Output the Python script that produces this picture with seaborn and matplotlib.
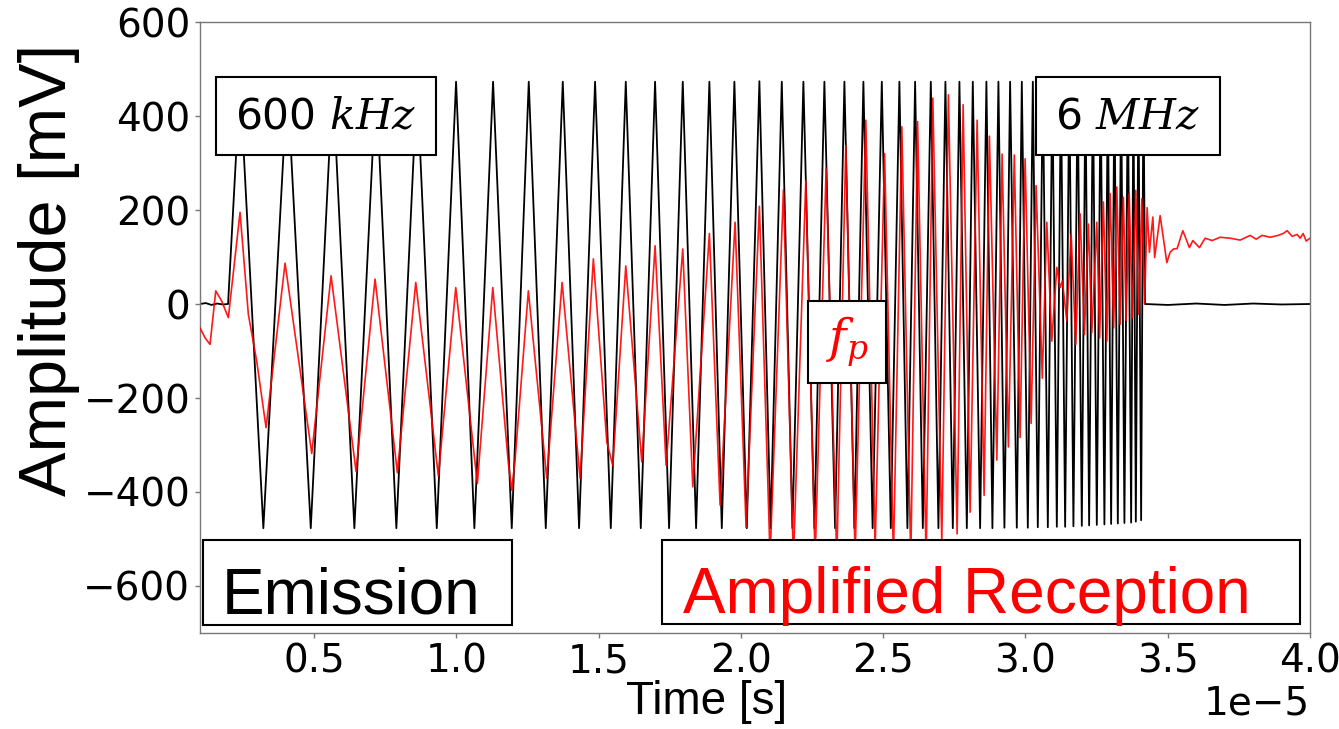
import numpy as np
import pandas as pd
import matplotlib
matplotlib.use("Agg")
import matplotlib.pyplot as plt
from matplotlib.patches import Rectangle
import seaborn as sns

# ---------------- data (time in microseconds, amplitude in mV) ----------------
# Emission (black): baseline before the chirp, extrema of the chirp, baseline after
black_pre_t = [1.00, 1.20, 1.40, 1.60, 1.80, 1.984]
black_pre_mv = [0, 2, -2, 1, -1, 0]

black_peak_t = [2.405, 4.067, 5.663, 7.184, 8.625, 9.995, 11.295, 12.549, 13.744, 14.879,
                15.958, 16.987, 17.960, 18.895, 19.774, 20.652, 21.439, 22.198, 22.936, 23.639,
                24.306, 24.953, 25.571, 26.123, 26.675, 27.188, 27.680, 28.150, 28.628, 29.050,
                29.461, 29.872, 30.259, 30.610, 30.944, 31.246, 31.541, 31.833, 32.107, 32.370,
                32.641, 32.894, 33.126, 33.361, 33.597, 33.793, 33.969, 34.145]
black_peak_mv = [473, 473, 473, 473, 473, 473, 473, 473, 473, 473,
                 473, 473, 473, 473, 473, 474, 473, 473, 473, 473,
                 473, 473, 473, 473, 473, 473, 473, 473, 473, 473,
                 473, 473, 473, 473, 473, 473, 473, 473, 473, 473,
                 473, 473, 473, 473, 473, 473, 473, 473]

black_trough_t = [3.224, 4.890, 6.422, 7.897, 9.317, 10.638, 11.952, 13.147, 14.317, 15.431,
                  16.485, 17.479, 18.428, 19.331, 20.209, 21.046, 21.812, 22.585, 23.312, 23.990,
                  24.630, 25.269, 25.852, 26.394, 26.942, 27.448, 27.940, 28.407, 28.839, 29.261,
                  29.696, 30.083, 30.434, 30.786, 31.102, 31.394, 31.685, 31.980, 32.237, 32.507,
                  32.774, 33.010, 33.245, 33.477, 33.713, 33.878, 34.064]
black_trough_mv = [-477, -477, -477, -477, -477, -477, -477, -477, -477, -477,
                   -477, -477, -477, -477, -477, -477, -477, -477, -477, -477,
                   -477, -477, -477, -477, -477, -477, -477, -477, -477, -476,
                   -476, -476, -475, -475, -474, -474, -473, -472, -471, -470,
                   -469, -468, -467, -466, -465, -463, -460]

black_post_t = [34.204, 35.0, 36.0, 37.0, 38.0, 39.0, 40.0]
black_post_mv = [0, -2, 1, -2, 1, -1, 0]

# Amplified reception (red)
red_t = [1.000, 1.176, 1.351, 1.552, 1.762, 1.994, 2.405, 2.697, 2.992, 3.319,
         3.987, 4.925, 5.603, 6.481, 7.149, 7.933, 8.579, 9.373, 9.985, 10.743,
         11.285, 11.833, 11.952, 12.068, 12.535, 13.182, 13.720, 14.352, 14.819, 15.290,
         15.501, 15.958, 16.520, 16.987, 17.374, 17.960, 18.312, 18.895, 19.271, 19.798,
         20.185, 20.652, 21.028, 21.496, 21.847, 22.283, 22.610, 22.996, 23.372, 23.688,
         24.015, 24.391, 24.718, 25.051, 25.361, 25.656, 25.971, 26.211, 26.510, 26.745,
         27.061, 27.293, 27.599, 27.810, 28.056, 28.302, 28.547, 28.734, 28.994, 29.180,
         29.401, 29.609, 29.812, 29.988, 30.199, 30.374, 30.592, 30.750, 30.926, 31.102,
         31.218, 31.298, 31.453, 31.604, 31.769, 31.920, 32.071, 32.212, 32.331, 32.507,
         32.606, 32.739, 32.859, 32.975, 33.098, 33.210, 33.326, 33.442, 33.537, 33.643,
         33.759, 33.878, 33.977, 34.089, 34.187, 34.275, 34.356, 34.475, 34.539, 34.732,
         34.967, 35.083, 35.199, 35.329, 35.529, 35.761, 35.881, 36.113, 36.313, 36.559,
         36.840, 37.191, 37.543, 37.894, 38.105, 38.316, 38.597, 38.878, 39.054, 39.194,
         39.370, 39.546, 39.651, 39.757, 39.862, 40.000]
red_mv = [-51, -72, -86, 28, 6, -29, 195, -22, -122, -263,
          87, -318, 60, -356, 53, -359, 46, -366, 35, -382,
          35, -339, -396, -332, 28, -371, 46, -371, 96, -293,
          -344, 81, -336, 124, -343, 117, -389, 150, -428, 174,
          -475, 208, -540, 243, -545, 263, -545, 288, -545, 337,
          -540, 391, -520, 320, -540, 377, -545, 388, -545, 438,
          -507, 445, -489, 424, -443, 391, -407, 357, -332, 319,
          -304, 317, -284, 309, -254, 252, -158, 174, -79, 78,
          35, 49, -36, 149, -86, 192, -65, 170, -61, 174,
          -72, 217, -79, 235, -51, 249, -43, 227, -35, 235,
          -29, 242, -22, 224, 0, 205, 110, 185, 99, 188,
          88, 110, 117, 118, 156, 120, 135, 120, 140, 135,
          142, 140, 136, 146, 138, 146, 142, 146, 150, 156,
          144, 148, 140, 150, 134, 140]

x_ticks = [0.5, 1.0, 1.5, 2.0, 2.5, 3.0, 3.5, 4.0]   # x 1e-5 s
y_ticks = [-600, -400, -200, 0, 200, 400, 600]

# ---------------- build tables ----------------
bt = black_pre_t + black_peak_t + black_trough_t + black_post_t
bv = black_pre_mv + black_peak_mv + black_trough_mv + black_post_mv
df_black = pd.DataFrame({"t": np.array(bt) * 1e-6, "mv": bv}).sort_values("t")
df_red = pd.DataFrame({"t": np.array(red_t) * 1e-6, "mv": red_mv})

# ---------------- style ----------------
sns.set_theme(style="ticks")
plt.rcParams["font.family"] = ["DejaVu Sans"]
plt.rcParams["mathtext.fontset"] = "dejavuserif"
plt.rcParams["axes.unicode_minus"] = True

fig = plt.figure(figsize=(13.39, 7.29), dpi=100)
ax = fig.add_axes([0.1494, 0.1317, 0.8290, 0.8381])

sns.lineplot(data=df_black, x="t", y="mv", color="black", linewidth=1.3,
             estimator=None, sort=False, ax=ax, zorder=2)
sns.lineplot(data=df_red, x="t", y="mv", color="#ff0000", linewidth=1.2, alpha=0.9,
             estimator=None, sort=False, ax=ax, zorder=3)

ax.set_xlim(1e-6, 4e-5)
ax.set_ylim(-700, 600)
ax.set_xticks(np.array(x_ticks) * 1e-5)
ax.set_yticks(y_ticks)

for s in ax.spines.values():
    s.set_color("#777777")
    s.set_linewidth(1.0)
ax.tick_params(axis="both", labelsize=28, length=3.5, width=1.0, color="#777777",
               labelcolor="black", direction="out")
ax.xaxis.get_offset_text().set_fontsize(28)

ax.set_xlabel("Time [s]", fontsize=33, family=["Liberation Sans"], color="black")
ax.set_ylabel("Amplitude [mV]", fontsize=48, family=["Liberation Sans"], color="black")
ax.xaxis.set_label_coords(0.456, -0.077)
ax.yaxis.set_label_coords(-0.108, 0.594)

# ---------------- annotation boxes (axes fractions) ----------------
def box(x0, y0, w, h):
    ax.add_patch(Rectangle((x0, y0), w, h, transform=ax.transAxes, facecolor="white",
                           edgecolor="black", linewidth=1.5, zorder=5, clip_on=False))

box(0.0144, 0.7823, 0.1982, 0.1277)
ax.text(0.0144 + 0.1982 / 2, 0.7823 + 0.1277 / 2, "600 $kHz$", transform=ax.transAxes,
        ha="center", va="center", fontsize=30.5, color="black", zorder=6)

box(0.7529, 0.7823, 0.1660, 0.1277)
ax.text(0.7529 + 0.1660 / 2, 0.7823 + 0.1277 / 2, "6 $MHz$", transform=ax.transAxes,
        ha="center", va="center", fontsize=30.5, color="black", zorder=6)

box(0.5480, 0.4097, 0.0700, 0.1342)
ax.text(0.5480 + 0.0700 / 2, 0.4097 + 0.1342 / 2, "$f_p$", transform=ax.transAxes,
        ha="center", va="center", fontsize=34, color="#ff0000", zorder=6)

box(0.0031, 0.0131, 0.2782, 0.1391)
ax.text(0.0198, 0.0327, "Emission", transform=ax.transAxes, ha="left", va="baseline",
        fontsize=46, family=["Liberation Sans"], color="black", zorder=6)

box(0.4159, 0.0139, 0.5748, 0.1383)
ax.text(0.4351, 0.0327, "Amplified Reception", transform=ax.transAxes, ha="left",
        va="baseline", fontsize=46, family=["Liberation Sans"], color="#ff0000", zorder=6)

fig.savefig("out.png", dpi=100)
